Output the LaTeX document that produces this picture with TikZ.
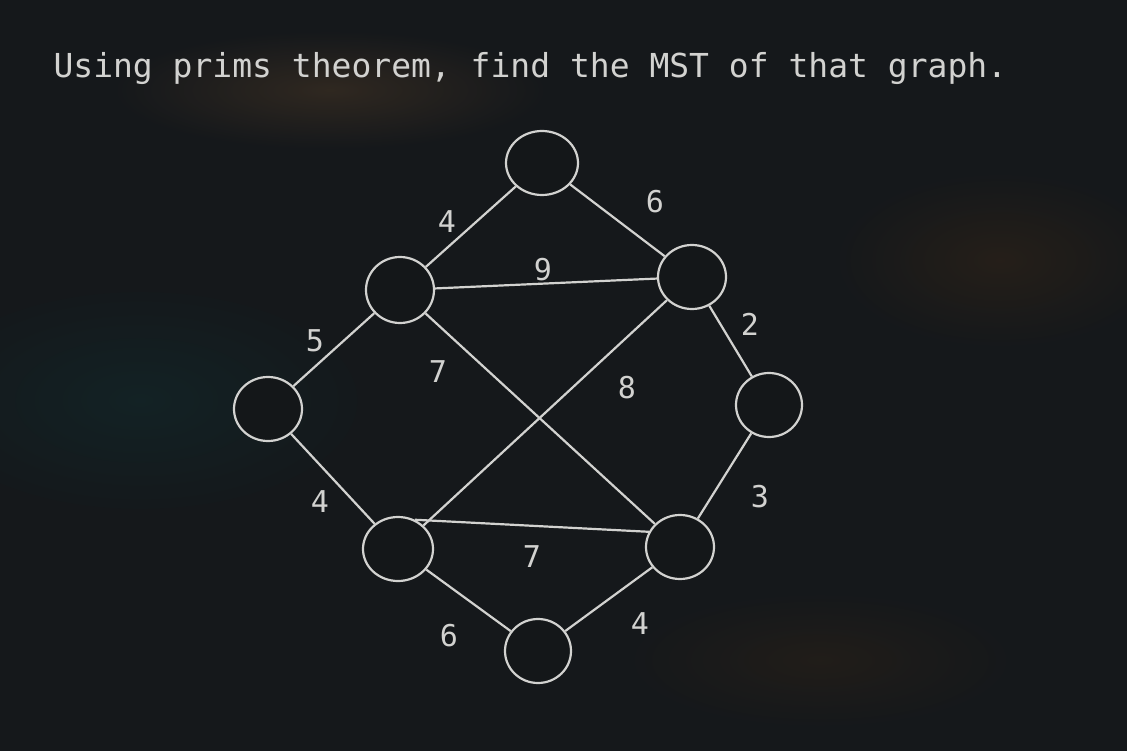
\documentclass[tikz,border=0pt]{standalone}
\usepackage{fontspec}
\setmonofont{DejaVu Sans Mono}
\usetikzlibrary{shapes.geometric}

\definecolor{bgdark}{HTML}{15181B}
\definecolor{chalk}{HTML}{D2D2D0}
\definecolor{nodefill}{HTML}{141719}

\tikzset{
  graphnode/.style={ellipse, draw=chalk, line width=2.2pt, fill=nodefill,
    minimum width=68pt, minimum height=64pt, inner sep=0pt},
  edge/.style={draw=chalk, line width=2.2pt},
  wlabel/.style={text=chalk, font=\ttfamily\fontsize{30}{30}\selectfont}
}

\begin{document}
\begin{tikzpicture}[x=1pt,y=1pt,yscale=-1,xscale=1]
        % background
        \fill[bgdark] (0,0) rectangle (1127,751);
        \useasboundingbox (0,0) rectangle (1127,751);
        \shade[inner color=brown!45!bgdark, outer color=bgdark, opacity=0.35] (330,90) ellipse (220 and 60);
        \shade[inner color=teal!25!bgdark, outer color=bgdark, opacity=0.4] (140,400) ellipse (240 and 120);
        \shade[inner color=orange!20!bgdark, outer color=bgdark, opacity=0.35] (1000,260) ellipse (170 and 90);
        \shade[inner color=orange!15!bgdark, outer color=bgdark, opacity=0.35] (820,660) ellipse (200 and 70);

        % title
        \node[wlabel, font=\ttfamily\fontsize{33}{33}\selectfont, anchor=base west] (title) at (50,78) {Using prims theorem, find the MST of that graph.};

        % vertices
        \node[graphnode, minimum width=72pt] (top) at (542,163) {};
        \node[graphnode, minimum height=66pt] (ul) at (400,290) {};
        \node[graphnode] (ur) at (692,277) {};
        \node[graphnode] (left) at (268,409) {};
        \node[graphnode, minimum width=66pt] (right) at (769,405) {};
        \node[graphnode, minimum width=70pt] (ll) at (398,549) {};
        \node[graphnode] (lr) at (680,547) {};
        \node[graphnode, minimum width=66pt] (bot) at (538,651) {};

        % edges
        \draw[edge] (top) -- (ul);
        \draw[edge] (top) -- (ur);
        \draw[edge] (ul) -- (ur);
        \draw[edge] (ul) -- (left);
        \draw[edge] (ul) -- (lr);
        \draw[edge] (ur) -- (ll);
        \draw[edge] (ur) -- (right);
        \draw[edge] (right) -- (lr);
        \draw[edge] (left) -- (ll);
        \draw[edge] (ll.60) -- (lr.154);
        \draw[edge] (ll) -- (bot);
        \draw[edge] (lr) -- (bot);

        % weights
        \node[wlabel] (w1) at (447,222) {4};
        \node[wlabel] (w2) at (655,202) {6};
        \node[wlabel] (w3) at (543,270) {9};
        \node[wlabel] (w4) at (315,341) {5};
        \node[wlabel] (w5) at (438,372) {7};
        \node[wlabel] (w6) at (627,388) {8};
        \node[wlabel] (w7) at (750,324) {2};
        \node[wlabel] (w8) at (760,497) {3};
        \node[wlabel] (w9) at (320,502) {4};
        \node[wlabel] (w10) at (532,557) {7};
        \node[wlabel] (w11) at (449,636) {6};
        \node[wlabel] (w12) at (640,624) {4};
\end{tikzpicture}
\end{document}
